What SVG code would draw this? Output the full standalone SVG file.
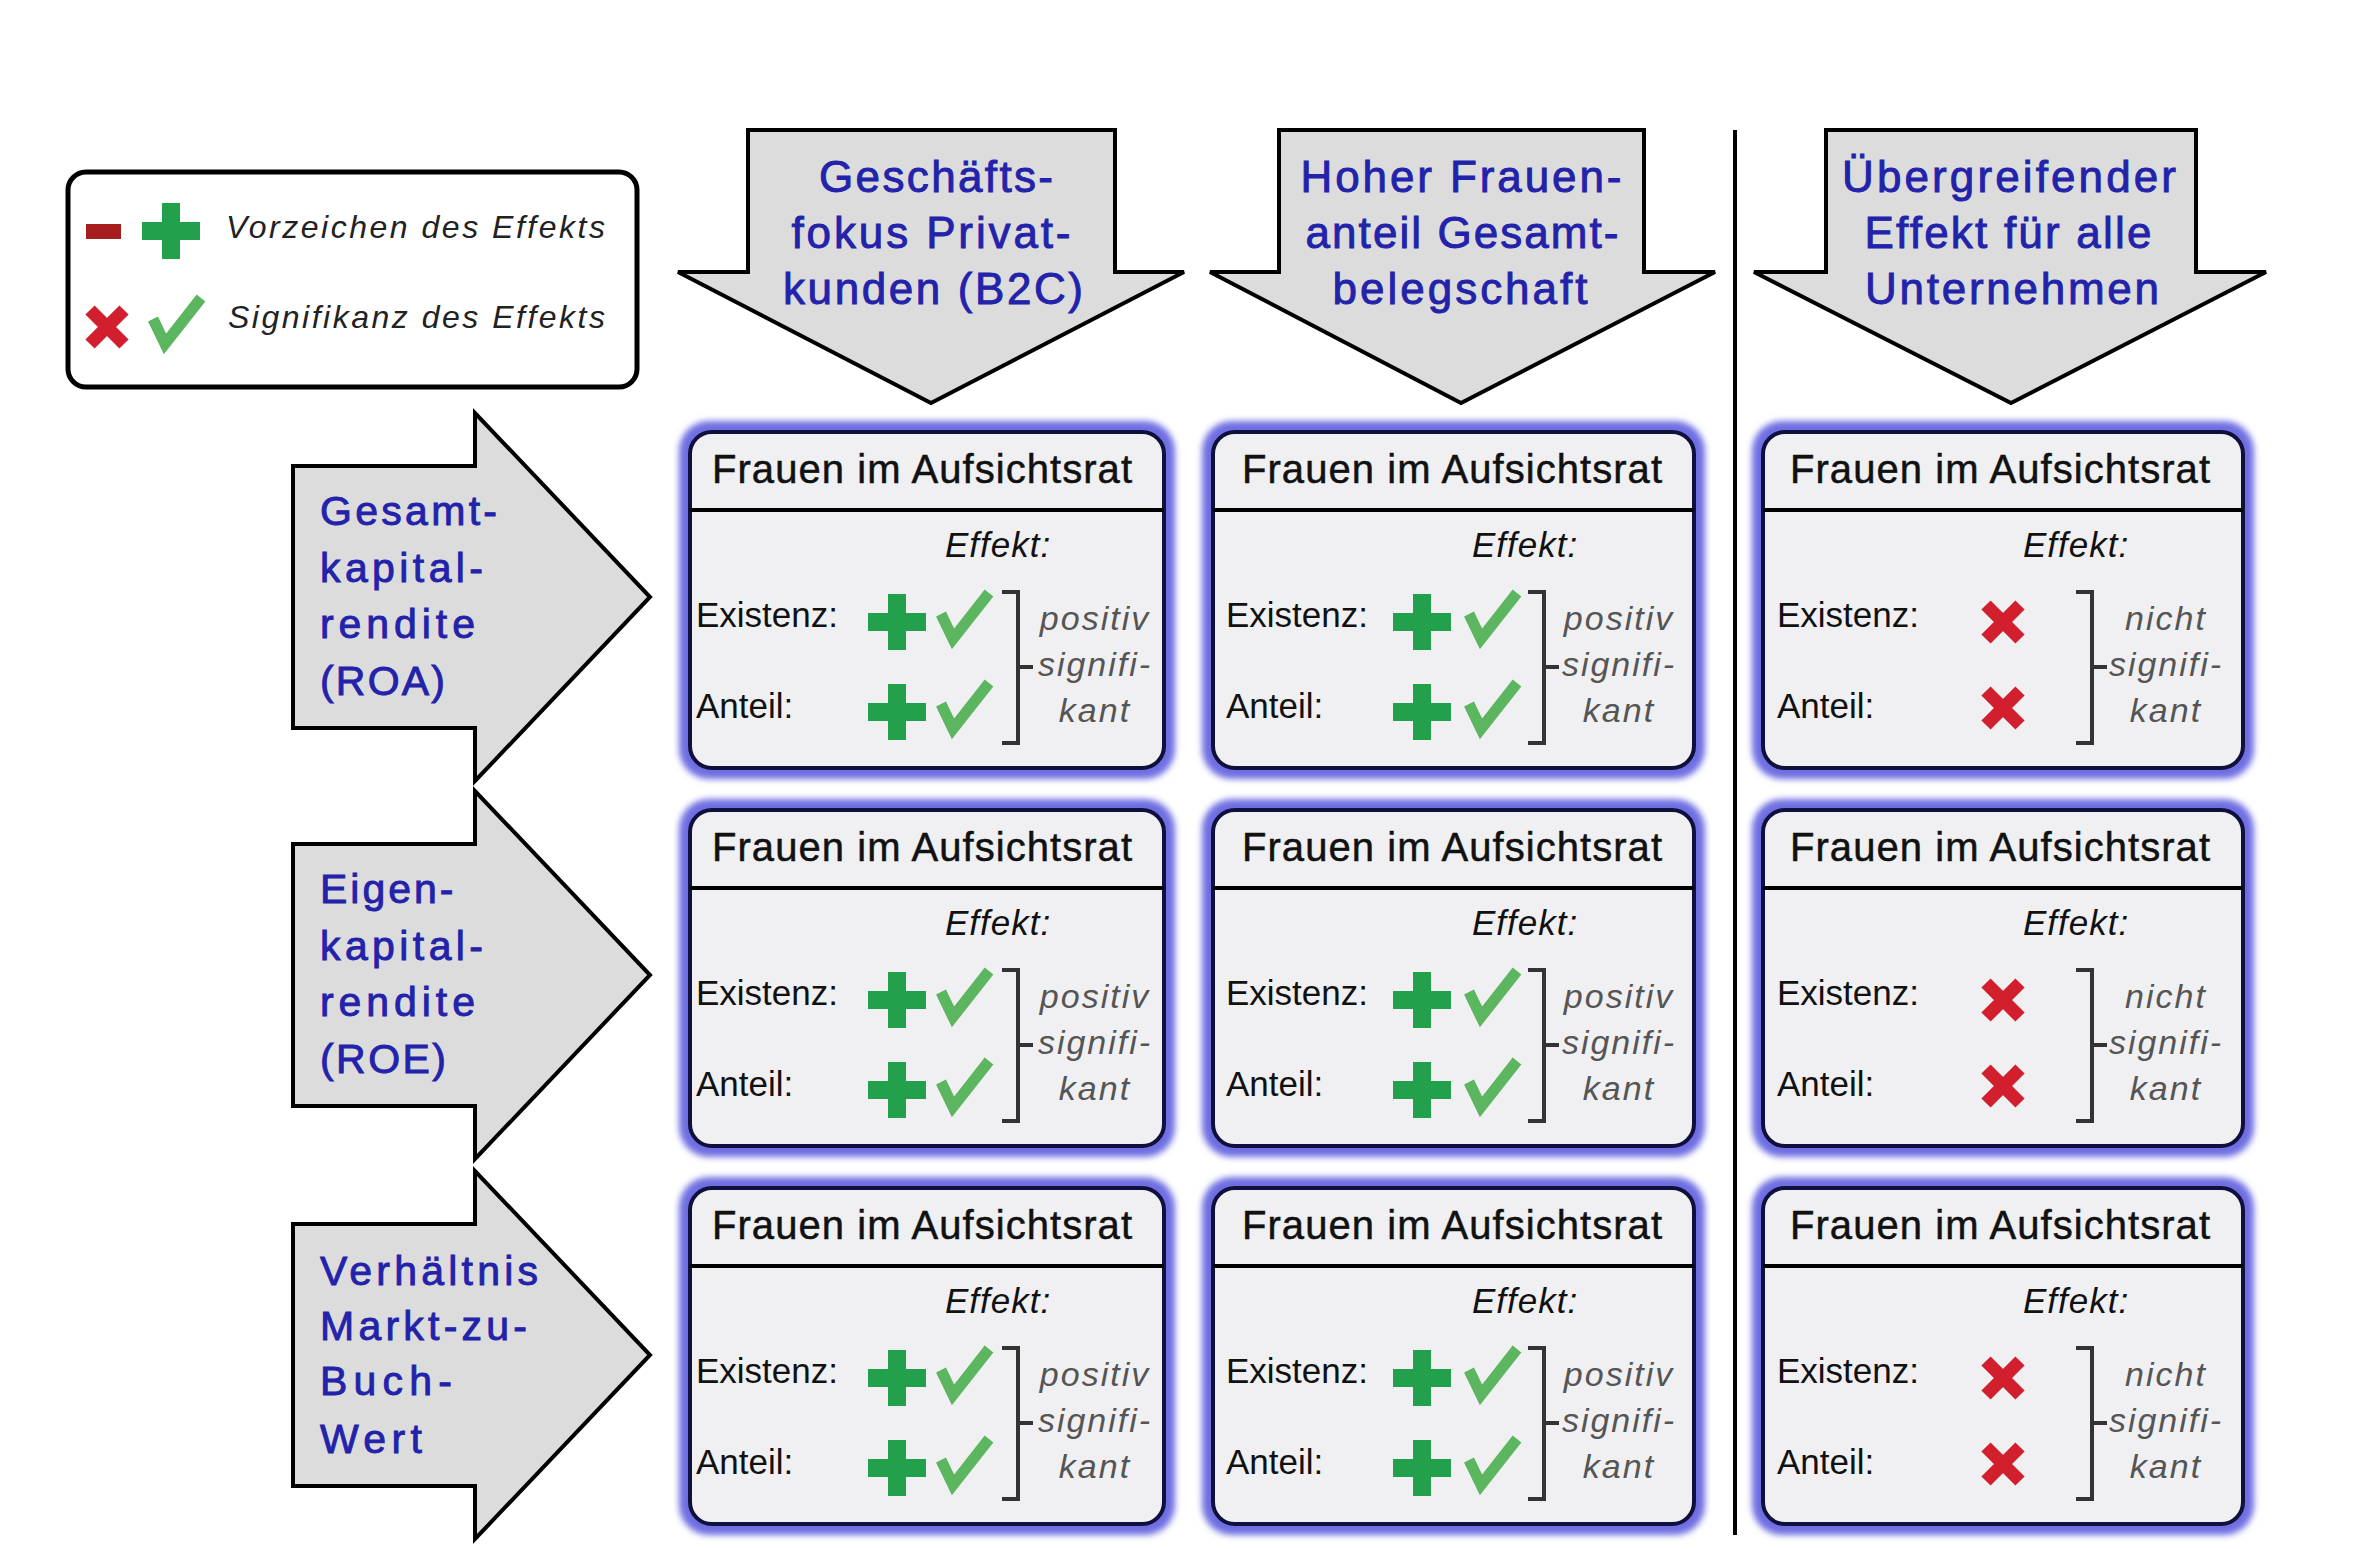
<svg xmlns="http://www.w3.org/2000/svg" xmlns:xlink="http://www.w3.org/1999/xlink" width="2378" height="1549" viewBox="0 0 2378 1549">
<defs>
<style>
text{font-family:"Liberation Sans",Arial,sans-serif}
.arrow{fill:#dcdcdc;stroke:#000;stroke-width:4;stroke-linejoin:miter}
.hdr{font-size:44px;fill:#2222aa;stroke:#2222aa;stroke-width:0.9px;text-anchor:middle}
.rowlbl{font-size:41px;fill:#2222aa;stroke:#2222aa;stroke-width:0.9px}
.glow{fill:#6e6ee2;filter:url(#soft)}
.box{fill:#f0f0f2;stroke:#10103c;stroke-width:4}
.sep{stroke:#000;stroke-width:4}
.ctitle{font-size:40px;fill:#111;stroke:#111;stroke-width:0.5px;text-anchor:middle}
.lab{font-size:35px;fill:#111}
.eff{font-size:35px;font-style:italic;fill:#111;letter-spacing:1px}
.res{font-size:34px;font-style:italic;fill:#555;text-anchor:middle;letter-spacing:2px}
.brk{fill:none;stroke:#333;stroke-width:4}
.leg{font-size:32px;font-style:italic;fill:#222}
</style>
<filter id="soft" x="-10%" y="-10%" width="120%" height="120%"><feGaussianBlur stdDeviation="3"/></filter>
<path id="plus" d="M-9,-28H9V-9H29V9H9V28H-9V9H-29V-9H-9Z" fill="#22a04c"/>
<path id="check" d="M-24,-3L-12,22L24,-24" fill="none" stroke="#5bb65f" stroke-width="11"/>
<g id="cross" stroke="#d21f2d" stroke-width="13"><path d="M-17,-17L17,17M17,-17L-17,17"/></g>
</defs>
<rect width="2378" height="1549" fill="#fff"/>

<g id="legend">
<rect x="68" y="172" width="569" height="215" rx="18" fill="#fff" stroke="#000" stroke-width="5"/>
<rect x="86" y="224" width="35" height="15" fill="#a51d1d"/>
<use xlink:href="#plus" transform="translate(171,231)"/>
<text class="leg" x="226" y="238" textLength="379" lengthAdjust="spacing">Vorzeichen des Effekts</text>
<use xlink:href="#cross" transform="translate(107,327)"/>
<use xlink:href="#check" transform="translate(177,322)"/>
<text class="leg" x="228" y="328" textLength="377" lengthAdjust="spacing">Signifikanz des Effekts</text>
</g>

<g id="col-b2c">
<path class="arrow" d="M748,130H1115V272H1184L931,403L678,272H748Z"/>
<text class="hdr" x="936" y="192" textLength="234" lengthAdjust="spacing">Geschäfts-</text>
<text class="hdr" x="931" y="248" textLength="279" lengthAdjust="spacing">fokus Privat-</text>
<text class="hdr" x="933" y="304" textLength="300" lengthAdjust="spacing">kunden (B2C)</text>
</g>
<g id="col-frauenanteil">
<path class="arrow" d="M1279,130H1644V272H1715L1461,403L1210,272H1279Z"/>
<text class="hdr" x="1461" y="192" textLength="321" lengthAdjust="spacing">Hoher Frauen-</text>
<text class="hdr" x="1462" y="248" textLength="313" lengthAdjust="spacing">anteil Gesamt-</text>
<text class="hdr" x="1460" y="304" textLength="255" lengthAdjust="spacing">belegschaft</text>
</g>
<g id="col-alle">
<path class="arrow" d="M1826,130H2196V272H2266L2011,403L1754,272H1826Z"/>
<text class="hdr" x="2009" y="192" textLength="334" lengthAdjust="spacing">Übergreifender</text>
<text class="hdr" x="2008" y="248" textLength="287" lengthAdjust="spacing">Effekt für alle</text>
<text class="hdr" x="2012" y="304" textLength="294" lengthAdjust="spacing">Unternehmen</text>
</g>

<g id="separator">
<line class="sep" x1="1735" y1="130" x2="1735" y2="1535"/>
</g>

<g id="row-roa">
<path class="arrow" d="M293,466H475V413L650,597L475,781V728H293Z"/>
<text class="rowlbl" x="320" y="525" textLength="177" lengthAdjust="spacing">Gesamt-</text>
<text class="rowlbl" x="320" y="582" textLength="163" lengthAdjust="spacing">kapital-</text>
<text class="rowlbl" x="320" y="638" textLength="155" lengthAdjust="spacing">rendite</text>
<text class="rowlbl" x="320" y="695" textLength="125" lengthAdjust="spacing">(ROA)</text>
</g>
<g id="row-roe">
<path class="arrow" d="M293,844H475V791L650,975L475,1159V1106H293Z"/>
<text class="rowlbl" x="320" y="903" letter-spacing="3">Eigen-</text>
<text class="rowlbl" x="320" y="960" textLength="163" lengthAdjust="spacing">kapital-</text>
<text class="rowlbl" x="320" y="1016" textLength="155" lengthAdjust="spacing">rendite</text>
<text class="rowlbl" x="320" y="1073" textLength="126" lengthAdjust="spacing">(ROE)</text>
</g>
<g id="row-mtb">
<path class="arrow" d="M293,1224H475V1171L650,1355L475,1539V1486H293Z"/>
<text class="rowlbl" x="320" y="1285" textLength="218" lengthAdjust="spacing">Verhältnis</text>
<text class="rowlbl" x="320" y="1340" textLength="207" lengthAdjust="spacing">Markt-zu-</text>
<text class="rowlbl" x="320" y="1395" textLength="132" lengthAdjust="spacing">Buch-</text>
<text class="rowlbl" x="320" y="1453" textLength="102" lengthAdjust="spacing">Wert</text>
</g>

<g id="cell-roa-b2c" transform="translate(690,432)">
<rect class="glow" x="-11" y="-11" width="496" height="358" rx="30"/>
<rect class="box" width="474" height="336" rx="22"/>
<line class="sep" x1="0" y1="78" x2="474" y2="78"/>
<text class="ctitle" x="232" y="51" textLength="420" lengthAdjust="spacing">Frauen im Aufsichtsrat</text>
<text class="eff" x="255" y="125">Effekt:</text>
<text class="lab" x="6" y="195">Existenz:</text>
<text class="lab" x="6" y="286">Anteil:</text>
<use xlink:href="#plus" transform="translate(207,190)"/>
<use xlink:href="#plus" transform="translate(207,280)"/>
<use xlink:href="#check" transform="translate(275,185)"/>
<use xlink:href="#check" transform="translate(275,275)"/>
<path class="brk" d="M312,160H328V311H312M328,235H343"/>
<text class="res" x="405" y="198">positiv</text>
<text class="res" x="405" y="244">signifi-</text>
<text class="res" x="405" y="290">kant</text>
</g>
<g id="cell-roa-frauen" transform="translate(1213,432)">
<rect class="glow" x="-11" y="-11" width="503" height="358" rx="30"/>
<rect class="box" width="481" height="336" rx="22"/>
<line class="sep" x1="0" y1="78" x2="481" y2="78"/>
<text class="ctitle" x="239" y="51" textLength="420" lengthAdjust="spacing">Frauen im Aufsichtsrat</text>
<text class="eff" x="259" y="125">Effekt:</text>
<text class="lab" x="13" y="195">Existenz:</text>
<text class="lab" x="13" y="286">Anteil:</text>
<use xlink:href="#plus" transform="translate(209,190)"/>
<use xlink:href="#plus" transform="translate(209,280)"/>
<use xlink:href="#check" transform="translate(280,185)"/>
<use xlink:href="#check" transform="translate(280,275)"/>
<path class="brk" d="M315,160H331V311H315M331,235H346"/>
<text class="res" x="406" y="198">positiv</text>
<text class="res" x="406" y="244">signifi-</text>
<text class="res" x="406" y="290">kant</text>
</g>
<g id="cell-roa-alle" transform="translate(1763,432)">
<rect class="glow" x="-11" y="-11" width="502" height="358" rx="30"/>
<rect class="box" width="480" height="336" rx="22"/>
<line class="sep" x1="0" y1="78" x2="480" y2="78"/>
<text class="ctitle" x="237" y="51" textLength="420" lengthAdjust="spacing">Frauen im Aufsichtsrat</text>
<text class="eff" x="260" y="125">Effekt:</text>
<text class="lab" x="14" y="195">Existenz:</text>
<text class="lab" x="14" y="286">Anteil:</text>
<use xlink:href="#cross" transform="translate(240,190)"/>
<use xlink:href="#cross" transform="translate(240,276)"/>
<path class="brk" d="M313,160H329V311H313M329,235H344"/>
<text class="res" x="403" y="198">nicht</text>
<text class="res" x="403" y="244">signifi-</text>
<text class="res" x="403" y="290">kant</text>
</g>

<g id="cell-roe-b2c" transform="translate(690,810)">
<rect class="glow" x="-11" y="-11" width="496" height="358" rx="30"/>
<rect class="box" width="474" height="336" rx="22"/>
<line class="sep" x1="0" y1="78" x2="474" y2="78"/>
<text class="ctitle" x="232" y="51" textLength="420" lengthAdjust="spacing">Frauen im Aufsichtsrat</text>
<text class="eff" x="255" y="125">Effekt:</text>
<text class="lab" x="6" y="195">Existenz:</text>
<text class="lab" x="6" y="286">Anteil:</text>
<use xlink:href="#plus" transform="translate(207,190)"/>
<use xlink:href="#plus" transform="translate(207,280)"/>
<use xlink:href="#check" transform="translate(275,185)"/>
<use xlink:href="#check" transform="translate(275,275)"/>
<path class="brk" d="M312,160H328V311H312M328,235H343"/>
<text class="res" x="405" y="198">positiv</text>
<text class="res" x="405" y="244">signifi-</text>
<text class="res" x="405" y="290">kant</text>
</g>
<g id="cell-roe-frauen" transform="translate(1213,810)">
<rect class="glow" x="-11" y="-11" width="503" height="358" rx="30"/>
<rect class="box" width="481" height="336" rx="22"/>
<line class="sep" x1="0" y1="78" x2="481" y2="78"/>
<text class="ctitle" x="239" y="51" textLength="420" lengthAdjust="spacing">Frauen im Aufsichtsrat</text>
<text class="eff" x="259" y="125">Effekt:</text>
<text class="lab" x="13" y="195">Existenz:</text>
<text class="lab" x="13" y="286">Anteil:</text>
<use xlink:href="#plus" transform="translate(209,190)"/>
<use xlink:href="#plus" transform="translate(209,280)"/>
<use xlink:href="#check" transform="translate(280,185)"/>
<use xlink:href="#check" transform="translate(280,275)"/>
<path class="brk" d="M315,160H331V311H315M331,235H346"/>
<text class="res" x="406" y="198">positiv</text>
<text class="res" x="406" y="244">signifi-</text>
<text class="res" x="406" y="290">kant</text>
</g>
<g id="cell-roe-alle" transform="translate(1763,810)">
<rect class="glow" x="-11" y="-11" width="502" height="358" rx="30"/>
<rect class="box" width="480" height="336" rx="22"/>
<line class="sep" x1="0" y1="78" x2="480" y2="78"/>
<text class="ctitle" x="237" y="51" textLength="420" lengthAdjust="spacing">Frauen im Aufsichtsrat</text>
<text class="eff" x="260" y="125">Effekt:</text>
<text class="lab" x="14" y="195">Existenz:</text>
<text class="lab" x="14" y="286">Anteil:</text>
<use xlink:href="#cross" transform="translate(240,190)"/>
<use xlink:href="#cross" transform="translate(240,276)"/>
<path class="brk" d="M313,160H329V311H313M329,235H344"/>
<text class="res" x="403" y="198">nicht</text>
<text class="res" x="403" y="244">signifi-</text>
<text class="res" x="403" y="290">kant</text>
</g>

<g id="cell-mtb-b2c" transform="translate(690,1188)">
<rect class="glow" x="-11" y="-11" width="496" height="358" rx="30"/>
<rect class="box" width="474" height="336" rx="22"/>
<line class="sep" x1="0" y1="78" x2="474" y2="78"/>
<text class="ctitle" x="232" y="51" textLength="420" lengthAdjust="spacing">Frauen im Aufsichtsrat</text>
<text class="eff" x="255" y="125">Effekt:</text>
<text class="lab" x="6" y="195">Existenz:</text>
<text class="lab" x="6" y="286">Anteil:</text>
<use xlink:href="#plus" transform="translate(207,190)"/>
<use xlink:href="#plus" transform="translate(207,280)"/>
<use xlink:href="#check" transform="translate(275,185)"/>
<use xlink:href="#check" transform="translate(275,275)"/>
<path class="brk" d="M312,160H328V311H312M328,235H343"/>
<text class="res" x="405" y="198">positiv</text>
<text class="res" x="405" y="244">signifi-</text>
<text class="res" x="405" y="290">kant</text>
</g>
<g id="cell-mtb-frauen" transform="translate(1213,1188)">
<rect class="glow" x="-11" y="-11" width="503" height="358" rx="30"/>
<rect class="box" width="481" height="336" rx="22"/>
<line class="sep" x1="0" y1="78" x2="481" y2="78"/>
<text class="ctitle" x="239" y="51" textLength="420" lengthAdjust="spacing">Frauen im Aufsichtsrat</text>
<text class="eff" x="259" y="125">Effekt:</text>
<text class="lab" x="13" y="195">Existenz:</text>
<text class="lab" x="13" y="286">Anteil:</text>
<use xlink:href="#plus" transform="translate(209,190)"/>
<use xlink:href="#plus" transform="translate(209,280)"/>
<use xlink:href="#check" transform="translate(280,185)"/>
<use xlink:href="#check" transform="translate(280,275)"/>
<path class="brk" d="M315,160H331V311H315M331,235H346"/>
<text class="res" x="406" y="198">positiv</text>
<text class="res" x="406" y="244">signifi-</text>
<text class="res" x="406" y="290">kant</text>
</g>
<g id="cell-mtb-alle" transform="translate(1763,1188)">
<rect class="glow" x="-11" y="-11" width="502" height="358" rx="30"/>
<rect class="box" width="480" height="336" rx="22"/>
<line class="sep" x1="0" y1="78" x2="480" y2="78"/>
<text class="ctitle" x="237" y="51" textLength="420" lengthAdjust="spacing">Frauen im Aufsichtsrat</text>
<text class="eff" x="260" y="125">Effekt:</text>
<text class="lab" x="14" y="195">Existenz:</text>
<text class="lab" x="14" y="286">Anteil:</text>
<use xlink:href="#cross" transform="translate(240,190)"/>
<use xlink:href="#cross" transform="translate(240,276)"/>
<path class="brk" d="M313,160H329V311H313M329,235H344"/>
<text class="res" x="403" y="198">nicht</text>
<text class="res" x="403" y="244">signifi-</text>
<text class="res" x="403" y="290">kant</text>
</g>
</svg>
